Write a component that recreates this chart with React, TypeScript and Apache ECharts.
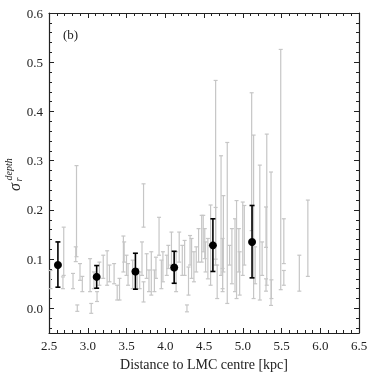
import React, { useEffect, useRef } from "react";
import * as echarts from "echarts";

// Individual fields (grey error bars)
const greyX = [2.52, 2.69, 2.68, 2.81, 2.845, 2.855, 2.865, 2.9, 2.93, 3.03, 3.045, 3.12, 3.08, 3.15, 3.2, 3.25, 3.28, 3.34, 3.38, 3.41, 3.46, 3.47, 3.5, 3.52, 3.58, 3.64, 3.67, 3.7, 3.72, 3.72, 3.76, 3.79, 3.82, 3.86, 3.88, 3.92, 3.95, 3.97, 4.02, 4.04, 4.08, 4.14, 4.18, 4.22, 4.25, 4.28, 4.3, 4.32, 4.34, 4.37, 4.4, 4.43, 4.47, 4.49, 4.51, 4.52, 4.55, 4.585, 4.65, 4.65, 4.67, 4.72, 4.74, 4.74, 4.75, 4.8, 4.83, 4.86, 4.9, 4.92, 4.95, 4.96, 5.0, 5.02, 5.115, 5.14, 5.16, 5.22, 5.25, 5.31, 5.3, 5.3, 5.365, 5.37, 5.49, 5.53, 5.53, 5.73, 5.84];
const greyLow = [0.04, 0.067, 0.04, 0.04, 0.095, 0.105, -0.006, 0.057, 0.034, 0.034, -0.01, 0.014, 0.04, 0.047, 0.061, 0.047, 0.054, 0.05, 0.017, 0.017, 0.074, 0.094, 0.067, 0.047, 0.04, 0.04, 0.04, 0.067, 0.165, 0.013, 0.061, 0.034, 0.027, 0.034, 0.061, 0.108, 0.04, 0.054, 0.067, 0.081, 0.088, 0.034, 0.094, 0.067, 0.067, -0.007, 0.027, 0.088, 0.061, 0.054, 0.074, 0.094, 0.094, 0.115, 0.101, 0.074, 0.06, 0.047, 0.1, 0.088, 0.02, 0.067, 0.04, 0.034, 0.074, 0.01, 0.088, 0.05, 0.034, 0.02, 0.074, 0.027, 0.067, 0.088, 0.158, 0.02, 0.05, 0.017, 0.067, 0.047, 0.124, 0.035, 0.006, 0.02, 0.038, 0.091, 0.047, 0.035, 0.065];
const greyHigh = [0.077, 0.165, 0.064, 0.071, 0.125, 0.29, 0.007, 0.091, 0.065, 0.101, 0.01, 0.034, 0.074, 0.094, 0.108, 0.117, 0.088, 0.091, 0.047, 0.061, 0.147, 0.135, 0.108, 0.091, 0.098, 0.081, 0.074, 0.135, 0.253, 0.054, 0.111, 0.078, 0.115, 0.078, 0.104, 0.185, 0.098, 0.115, 0.108, 0.128, 0.155, 0.115, 0.155, 0.128, 0.138, 0.007, 0.084, 0.148, 0.142, 0.115, 0.125, 0.162, 0.189, 0.189, 0.162, 0.135, 0.142, 0.21, 0.463, 0.205, 0.088, 0.31, 0.142, 0.081, 0.229, 0.337, 0.128, 0.162, 0.182, 0.219, 0.162, 0.115, 0.216, 0.209, 0.438, 0.352, 0.125, 0.291, 0.135, 0.354, 0.206, 0.06, 0.277, 0.058, 0.526, 0.182, 0.077, 0.108, 0.22];

// Binned means (black points)
const blackX = [2.615, 3.115, 3.615, 4.115, 4.615, 5.12];
const blackY = [0.088, 0.064, 0.075, 0.083, 0.128, 0.135];
const blackLow = [0.043, 0.041, 0.039, 0.051, 0.075, 0.062];
const blackHigh = [0.135, 0.087, 0.112, 0.116, 0.182, 0.209];

const yMajor = [0, 0.1, 0.2, 0.3, 0.4, 0.5, 0.6];
const yMinor = [-0.04, -0.02, 0.02, 0.04, 0.06, 0.08, 0.12, 0.14, 0.16, 0.18, 0.22, 0.24, 0.26, 0.28, 0.32, 0.34, 0.36, 0.38, 0.42, 0.44, 0.46, 0.48, 0.52, 0.54, 0.56, 0.58];

const FONT = "'Liberation Serif', 'DejaVu Serif', serif";
const AXIS_COLOR = "#222";

function makeRender(color: string, lw: number, cap: number, dot: boolean) {
  return (params: any, api: any) => {
    const x = api.value(0);
    const lo = api.value(1);
    const hi = api.value(2);
    const pLo = api.coord([x, lo]);
    const pHi = api.coord([x, hi]);
    const style = { stroke: color, lineWidth: lw };
    const children: any[] = [
      { type: "line", shape: { x1: pLo[0], y1: pLo[1], x2: pHi[0], y2: pHi[1] }, style },
      { type: "line", shape: { x1: pLo[0] - cap, y1: pLo[1], x2: pLo[0] + cap, y2: pLo[1] }, style },
      { type: "line", shape: { x1: pHi[0] - cap, y1: pHi[1], x2: pHi[0] + cap, y2: pHi[1] }, style },
    ];
    if (dot) {
      const p = api.coord([x, api.value(3)]);
      children.push({ type: "circle", shape: { cx: p[0], cy: p[1], r: 4 }, style: { fill: "#000" } });
    }
    return { type: "group", children };
  };
}

export default function App() {
  const ref = useRef<HTMLDivElement>(null);
  useEffect(() => {
    if (!ref.current) return;
    const chart = echarts.init(ref.current, null, { renderer: "svg" });
    const greyData = greyX.map((x, i) => [x, greyLow[i], greyHigh[i]]);
    const blackData = blackX.map((x, i) => [x, blackLow[i], blackHigh[i], blackY[i]]);
    const yBase = { type: "value", min: -0.05, max: 0.6, splitLine: { show: false } };
    const xBase = {
      type: "value",
      min: 2.5,
      max: 6.5,
      interval: 0.5,
      splitLine: { show: false },
      axisLine: { show: true, onZero: false, lineStyle: { color: AXIS_COLOR, width: 1.2 } },
      axisTick: { show: true, inside: true, length: 5, lineStyle: { color: AXIS_COLOR } },
      minorTick: { show: true, splitNumber: 5, length: 3, lineStyle: { color: AXIS_COLOR } },
    };
    chart.setOption({
      animation: false,
      grid: { left: 49, right: 15, top: 13, bottom: 41, containLabel: false },
      xAxis: [
        {
          ...xBase,
          position: "bottom",
          axisLabel: { show: true, fontFamily: FONT, fontSize: 13, color: AXIS_COLOR, margin: 6, formatter: (v: number) => v.toFixed(1) },
          name: "Distance to LMC centre [kpc]",
          nameLocation: "middle",
          nameGap: 24,
          nameTextStyle: { fontFamily: FONT, fontSize: 14, color: AXIS_COLOR },
        },
        { ...xBase, position: "top", axisLabel: { show: false } },
      ],
      yAxis: [
        {
          ...yBase,
          position: "left",
          axisLine: { show: true, onZero: false, lineStyle: { color: AXIS_COLOR, width: 1.2 } },
          axisTick: { show: true, inside: true, length: 5, customValues: yMajor, lineStyle: { color: AXIS_COLOR } },
          axisLabel: { show: true, customValues: yMajor, fontFamily: FONT, fontSize: 13, color: AXIS_COLOR, margin: 6, formatter: (v: number) => v.toFixed(1) },
        },
        {
          ...yBase,
          position: "right",
          axisLine: { show: true, onZero: false, lineStyle: { color: AXIS_COLOR, width: 1.2 } },
          axisTick: { show: true, inside: true, length: 5, customValues: yMajor, lineStyle: { color: AXIS_COLOR } },
          axisLabel: { show: false },
        },
        {
          ...yBase,
          position: "left",
          axisLine: { show: false },
          axisTick: { show: true, inside: true, length: 3, customValues: yMinor, lineStyle: { color: AXIS_COLOR } },
          axisLabel: { show: false },
        },
        {
          ...yBase,
          position: "right",
          axisLine: { show: false },
          axisTick: { show: true, inside: true, length: 3, customValues: yMinor, lineStyle: { color: AXIS_COLOR } },
          axisLabel: { show: false },
        },
      ],
      series: [
        {
          type: "custom",
          xAxisIndex: 0,
          yAxisIndex: 0,
          renderItem: makeRender("#c6c6c6", 1.2, 2, false),
          encode: { x: 0, y: [1, 2] },
          data: greyData,
          silent: true,
        },
        {
          type: "custom",
          xAxisIndex: 0,
          yAxisIndex: 0,
          renderItem: makeRender("#000", 1.6, 2.5, true),
          encode: { x: 0, y: [1, 2] },
          data: blackData,
          silent: true,
        },
      ],
      graphic: [
        {
          type: "text",
          left: 63,
          top: 28,
          style: { text: "(b)", fontFamily: FONT, fontSize: 13, fill: AXIS_COLOR },
        },
        {
          type: "group",
          x: 14,
          y: 191,
          rotation: Math.PI / 2,
          children: [
            { type: "text", x: 0, y: 0, style: { text: "σ", fontFamily: FONT, fontStyle: "italic", fontSize: 16, fill: AXIS_COLOR, textAlign: "left", textVerticalAlign: "middle" } },
            { type: "text", x: 9.5, y: 4, style: { text: "r", fontFamily: FONT, fontStyle: "italic", fontSize: 10, fill: AXIS_COLOR, textAlign: "left", textVerticalAlign: "middle" } },
            { type: "text", x: 10.5, y: -6, style: { text: "depth", fontFamily: FONT, fontStyle: "italic", fontSize: 10, fill: AXIS_COLOR, textAlign: "left", textVerticalAlign: "middle" } },
          ],
        },
      ],
    });
    return () => chart.dispose();
  }, []);
  return <div ref={ref} style={{ position: "fixed", left: 0, top: 0, width: 374, height: 376 }} />;
}
